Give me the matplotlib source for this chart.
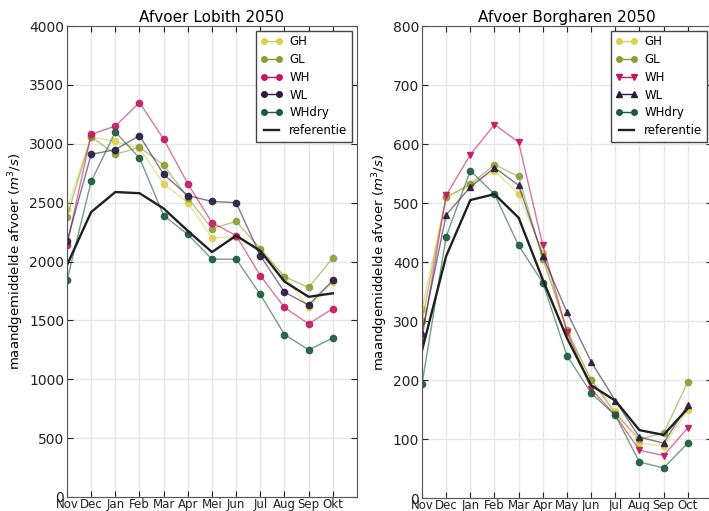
import matplotlib.pyplot as plt
import numpy as np

plt.rcParams['font.family'] = 'DejaVu Sans'
plt.rcParams['font.size'] = 10

# --- data ---
months_lob = ['Nov', 'Dec', 'Jan', 'Feb', 'Mar', 'Apr', 'Mei', 'Jun', 'Jul', 'Aug', 'Sep', 'Okt']
months_bor = ['Nov', 'Dec', 'Jan', 'Feb', 'Mar', 'Apr', 'May', 'Jun', 'Jul', 'Aug', 'Sep', 'Oct']
series = ['GH', 'GL', 'WH', 'WL', 'WHdry']

lob_GH = [2450, 3060, 3020, 2960, 2660, 2500, 2200, 2210, 2100, 1870, 1610, 1830]
lob_GL = [2380, 3060, 2910, 2970, 2820, 2540, 2280, 2340, 2110, 1870, 1780, 2030]
lob_WH = [2140, 3080, 3150, 3350, 3040, 2660, 2330, 2220, 1880, 1610, 1470, 1600]
lob_WL = [2170, 2910, 2950, 3070, 2740, 2560, 2510, 2500, 2050, 1740, 1630, 1840]
lob_WHdry = [1840, 2680, 3100, 2880, 2390, 2230, 2020, 2020, 1720, 1380, 1250, 1350]
lob_ref = [1970, 2420, 2590, 2580, 2450, 2260, 2080, 2220, 2090, 1830, 1700, 1730]

bor_GH = [320, 510, 530, 555, 515, 415, 280, 200, 148, 93, 88, 150]
bor_GL = [300, 510, 532, 565, 545, 405, 285, 200, 143, 100, 110, 197]
bor_WH = [270, 513, 582, 633, 603, 428, 282, 185, 140, 81, 72, 119]
bor_WL = [280, 480, 527, 560, 530, 410, 315, 231, 165, 103, 93, 158]
bor_WHdry = [193, 443, 555, 515, 428, 365, 241, 178, 140, 61, 51, 93]
bor_ref = [250, 410, 505, 515, 475, 370, 271, 191, 165, 115, 107, 152]

colors = {'GH': '#d9d24e', 'GL': '#8f9c3a', 'WH': '#c4195f', 'WL': '#2b1b42', 'WHdry': '#1b5c38'}
markers_lob = {'GH': 'o', 'GL': 'o', 'WH': 'o', 'WL': 'o', 'WHdry': 'o'}
markers_bor = {'GH': 'o', 'GL': 'o', 'WH': 'v', 'WL': '^', 'WHdry': 'o'}


def draw(ax, months, data, ref, markers, title, ymax, ystep):
    x = np.arange(len(months))
    for name in series:
        c = colors[name]
        ax.plot(x, data[name], color=c, alpha=0.6, lw=1.0)
        ax.plot(x, data[name], ls='none', marker=markers[name], ms=4.5,
                mfc=c, mec=c, alpha=0.9)
        # legend proxy
        ax.plot([], [], color=c, marker=markers[name], ms=4, lw=1,
                mfc=c, mec=c, label=name)
    ax.plot(x, ref, color='#202020', lw=1.7, label='referentie')
    ax.set_xlim(0, 12)
    ax.set_ylim(0, ymax)
    ax.set_xticks(x)
    ax.set_xticklabels(months, fontsize=8.5)
    ax.set_yticks(np.arange(0, ymax + 1, ystep))
    ax.tick_params(direction='in', top=True, right=True, length=4,
                   pad=2, colors='#222222', labelsize=10)
    ax.tick_params(axis='x', pad=0.5, labelsize=8.5)
    ax.grid(True, color='#e6e6e6', lw=1)
    ax.set_axisbelow(True)
    for s in ax.spines.values():
        s.set_color('#555555')
    ax.set_title(title, fontsize=11, pad=3)
    ax.set_ylabel(r'maandgemiddelde afvoer ($m^3/s$)', fontsize=9.5, labelpad=2)
    leg = ax.legend(loc='upper right', fontsize=8.5, numpoints=2, fancybox=False,
                    framealpha=1, borderaxespad=0.4, handlelength=1.8,
                    labelspacing=0.4, handletextpad=0.6)
    leg.get_frame().set_edgecolor('#444444')


fig = plt.figure(figsize=(7.09, 5.11), dpi=100)
ax1 = fig.add_axes([0.0945, 0.0274, 0.409, 0.9217])
ax2 = fig.add_axes([0.5952, 0.0254, 0.409, 0.9237])

draw(ax1, months_lob,
     {'GH': lob_GH, 'GL': lob_GL, 'WH': lob_WH, 'WL': lob_WL, 'WHdry': lob_WHdry},
     lob_ref, markers_lob, 'Afvoer Lobith 2050', 4000, 500)
draw(ax2, months_bor,
     {'GH': bor_GH, 'GL': bor_GL, 'WH': bor_WH, 'WL': bor_WL, 'WHdry': bor_WHdry},
     bor_ref, markers_bor, 'Afvoer Borgharen 2050', 800, 100)

fig.savefig('out.png', dpi=100)
